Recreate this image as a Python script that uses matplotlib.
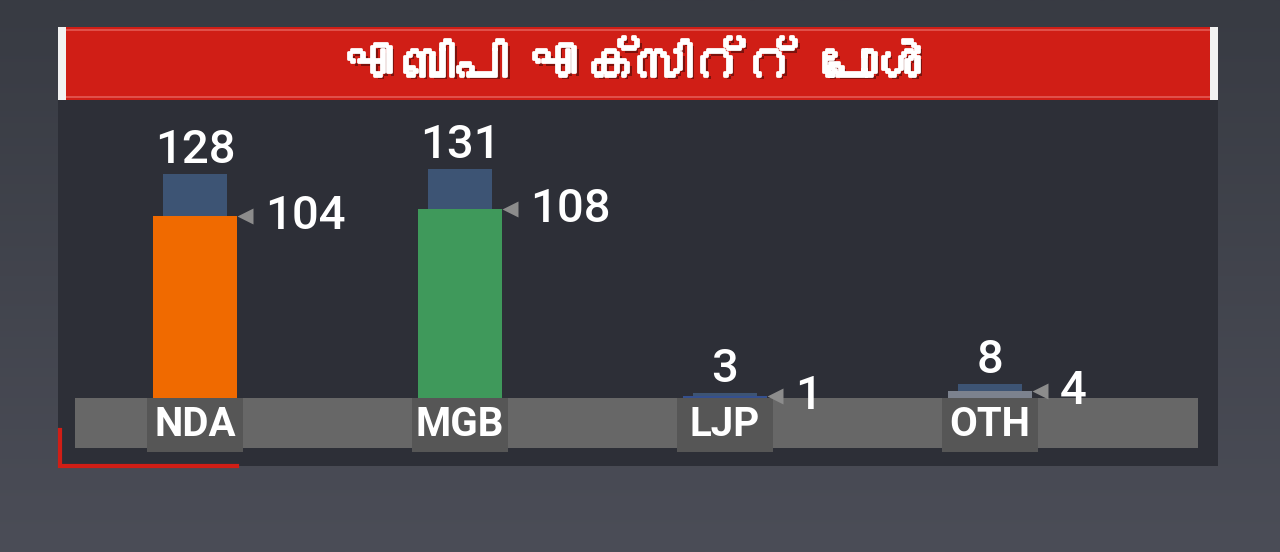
import matplotlib
matplotlib.use("Agg")
import matplotlib.pyplot as plt
from matplotlib.patches import Rectangle
from matplotlib import font_manager, patheffects
from matplotlib.ft2font import FT2Font
import numpy as np

# ---- data ----
title = "എബിപി എക്സിറ്റ് പോൾ"
categories = ["NDA", "MGB", "LJP", "OTH"]
upper_values = [128, 131, 3, 8]
lower_values = [104, 108, 1, 4]
bar_colors = ["#f06a00", "#3f995b", "#35508e", "#7c828e"]
range_color = "#3d5474"

# ---- find a font with Malayalam glyphs, if any ----
mal_family = None
for f in font_manager.fontManager.ttflist:
    try:
        if 0x0D0E in FT2Font(f.fname).get_charmap():
            mal_family = f.name
            break
    except Exception:
        pass
title_families = ([mal_family] if mal_family else []) + ["DejaVu Sans"]

W, H = 1280, 552
fig = plt.figure(figsize=(W / 100, H / 100), dpi=100)
fig.patch.set_facecolor("#42454d")

# ---- decorative background axes in pixel coordinates ----
bg = fig.add_axes([0, 0, 1, 1])
bg.set_xlim(0, W)
bg.set_ylim(H, 0)
bg.axis("off")
grad = np.linspace(0, 1, 256).reshape(-1, 1)
bg.imshow(grad, extent=[0, W, H, 0], cmap=matplotlib.colors.LinearSegmentedColormap.from_list(
    "g", ["#383b43", "#4b4d57"]), aspect="auto", zorder=0)
# dark panel
bg.add_patch(Rectangle((58, 96), 1160, 370, fc="#2d2f37", ec="none", zorder=1))
# title bar
bg.add_patch(Rectangle((58, 27), 1160, 73, fc="#d01e16", ec="none", zorder=2))
bg.add_patch(Rectangle((66, 29), 1144, 2, fc="#e0504a", ec="none", zorder=2))
bg.add_patch(Rectangle((66, 96), 1144, 2, fc="#e0504a", ec="none", zorder=2))
bg.add_patch(Rectangle((58, 27), 8, 73, fc="#f2f2f2", ec="none", zorder=3))
bg.add_patch(Rectangle((1210, 27), 8, 73, fc="#f2f2f2", ec="none", zorder=3))
bg.text(638, 66, title, color="white", fontsize=38,
        ha="center", va="center", family=title_families, zorder=4,
        path_effects=[
            patheffects.withSimplePatchShadow(offset=(2.5, -2.5), shadow_rgbFace="black", alpha=0.4),
            patheffects.Stroke(linewidth=2, foreground="white"),
            patheffects.Normal(),
        ])
# grey baseline band
bg.add_patch(Rectangle((75, 398), 1123, 50, fc="#676767", ec="none", zorder=2))
# red corner mark
bg.plot([60, 60, 237], [430, 466, 466], color="#d01e16", lw=3, zorder=3,
        solid_joinstyle="miter")

# ---- data axes ----
px_per_unit = 1.75
ax = fig.add_axes([62.5 / W, (H - 398) / H, 1060 / W, 298 / H])
ax.set_xlim(-0.5, 3.5)
ax.set_ylim(0, 298 / px_per_unit)
ax.axis("off")
ax.patch.set_alpha(0)

x = np.arange(len(categories))
ax.bar(x, upper_values, width=0.245, color=range_color, zorder=2)
ax.bar(x, lower_values, width=0.317, color=bar_colors, zorder=3)

# label boxes below baseline
ax.bar(x, [-31] * len(x), width=0.36, color="#565656", zorder=3, clip_on=False)

num_font = "Roboto"
for i, (cat, up, lo) in enumerate(zip(categories, upper_values, lower_values)):
    ax.text(i, -15.2, cat, ha="center", va="center", color="white", fontsize=29,
            fontweight="bold", family=num_font, zorder=5, clip_on=False)
    ax.annotate(str(up), (i, up), xytext=(0, 8), textcoords="offset points",
                ha="center", va="baseline", color="white", fontsize=34,
                fontweight="medium", family=num_font, zorder=5)
    ax.plot(i + 0.19, lo, marker="<", ms=11, color="#8c8c8c", mec="none", zorder=4,
            clip_on=False)
    ax.text(i + 0.264, lo, str(lo), ha="left", va="center", color="white",
            fontsize=34, fontweight="medium", family=num_font, zorder=5, clip_on=False)

fig.savefig("out.png", dpi=100, facecolor=fig.get_facecolor())
